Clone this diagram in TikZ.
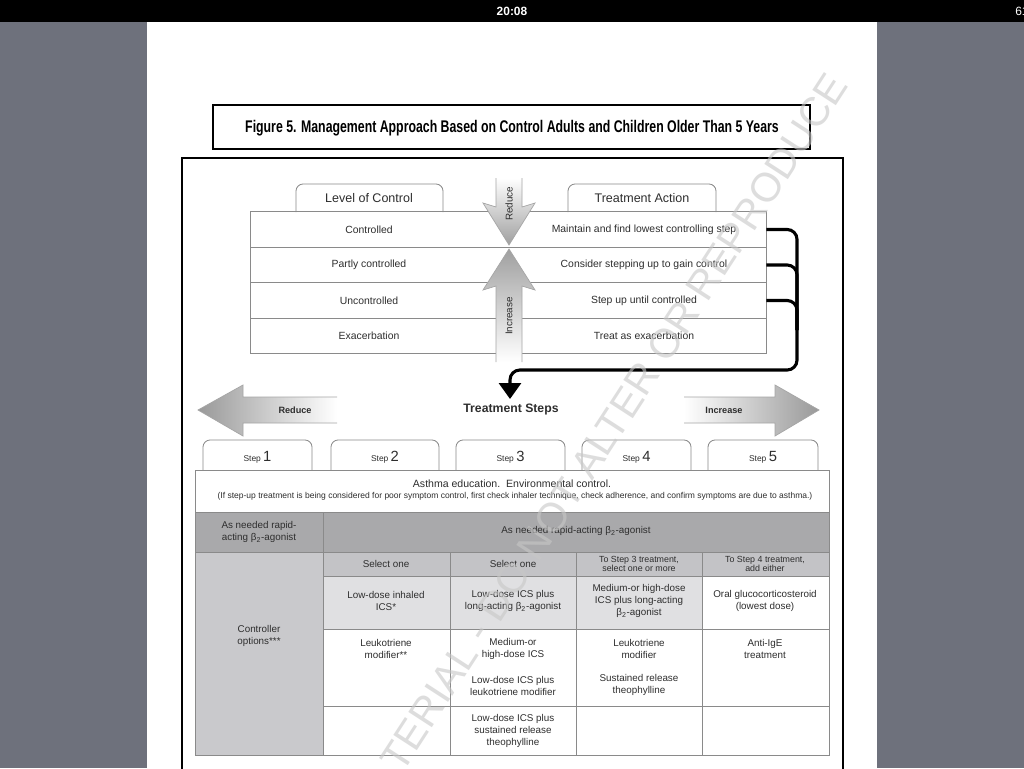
\documentclass[tikz,border=0pt]{standalone}
\usepackage{fontspec}
\setmainfont{Liberation Sans}
\newfontfamily\titlefont[FakeStretch=0.73]{Liberation Sans}
\usetikzlibrary{positioning, calc, arrows.meta}
\definecolor{slate}{HTML}{6E717C}
\definecolor{rowdark}{HTML}{A9A9AB}
\definecolor{rowmid}{HTML}{C3C3C6}
\definecolor{rowlight}{HTML}{E0E0E2}
\definecolor{cellgray}{HTML}{C9C9CC}
\definecolor{rulegray}{HTML}{8A8A8A}
\definecolor{inkgray}{HTML}{2E2E2E}

\begin{document}
\begin{tikzpicture}[
    x=0.25mm, y=-0.25mm,
    tabline/.style={draw=rulegray, fill=white, line width=0.6pt, rounded corners=5pt},
    cellrule/.style={draw=rulegray, line width=0.6pt},
    txt/.style={font=\fontsize{7}{8.6}\selectfont, text=inkgray, align=center, inner sep=0pt},
    rowtxt/.style={txt, font=\fontsize{7.4}{9}\selectfont},
    smalltxt/.style={font=\fontsize{6.3}{7}\selectfont, text=inkgray, align=center, inner sep=0pt},
    headtxt/.style={font=\fontsize{8.9}{10}\selectfont, text=inkgray, inner sep=0pt},
    feedback/.style={line width=2.2pt, rounded corners=7pt},
    arrowline/.style={draw=gray!70, line width=0.5pt}
]

    % --- SCREEN ---
    \useasboundingbox (0,0) rectangle (1024,768);
    \fill[slate] (0,0) rectangle (1024,768);
    \fill[white] (147,22) rectangle (877,768);
    \fill[black] (0,0) rectangle (1024,22);
    \node[text=white, font=\bfseries\fontsize{8.5}{10}\selectfont] (clock) at (512,11) {20:08};
    \node[text=white, font=\fontsize{8.5}{10}\selectfont, anchor=west, inner sep=0pt] (battery) at (1015,11) {61};

    % --- TITLE ---
    \draw[line width=1.3pt] (213,105) rectangle (810,149);
    \node[font=\titlefont\bfseries\fontsize{12}{14}\selectfont] (title) at (512,128) {Figure 5. Management Approach Based on Control Adults and Children Older Than 5 Years};
    \draw[line width=1.2pt] (182,158) rectangle (843,790);

    % --- LEVEL OF CONTROL / TREATMENT ACTION ---
    \draw[tabline] (296,212) -- (296,184) -- (443,184) -- (443,212);
    \draw[tabline] (568,212) -- (568,184) -- (716,184) -- (716,212);
    \node[headtxt] (lvlhead) at (369,198) {Level of Control};
    \node[headtxt] (acthead) at (642,198) {Treatment Action};
    \foreach \i/\lvl/\act in {1/Controlled/Maintain and find lowest controlling step,
                              2/Partly controlled/Consider stepping up to gain control,
                              3/Uncontrolled/Step up until controlled,
                              4/Exacerbation/Treat as exacerbation} {
        \node[draw=rulegray, line width=0.6pt, minimum width=129mm, minimum height=8.875mm, inner sep=0pt] (row\i) at (508,194+35.5*\i) {};
        \node[rowtxt] (lvl\i) at (369,194+35.5*\i) {\lvl};
        \node[rowtxt] (act\i) at (644,194+35.5*\i) {\act};
    }

    % Reduce / Increase arrows between the halves
    \shade[top color=white, bottom color=gray!75] (496,178) -- (496,207) -- (483,203) -- (509,245) -- (535,203) -- (522,207) -- (522,178) -- cycle;
    \draw[arrowline] (496,178) -- (496,207) -- (483,203) -- (509,245) -- (535,203) -- (522,207) -- (522,178);
    \node[txt, rotate=90] (reduceup) at (509,204) {Reduce};
    \shade[top color=gray!75, bottom color=white] (509,249) -- (535,290) -- (522,286) -- (522,362) -- (496,362) -- (496,286) -- (483,290) -- cycle;
    \draw[arrowline] (496,362) -- (496,286) -- (483,290) -- (509,249) -- (535,290) -- (522,286) -- (522,362);
    \node[txt, rotate=90] (increaseup) at (509,316) {Increase};

    % feedback lines to the treatment steps
    \coordinate (loop) at (797,370);
    \coordinate (drop) at (510,399);
    \draw[feedback, -{Triangle[width=5.5mm, length=4mm]}] (row1.east) -| (loop) -- (510,370) -- (drop);
    \draw[feedback] (row2.east) -| ($(loop)+(0,-40)$);
    \draw[feedback] (row3.east) -| ($(loop)+(0,-40)$);

    % --- TREATMENT STEPS ---
    \node[font=\bfseries\fontsize{8.7}{10}\selectfont, text=inkgray] (steps) at (511,409) {Treatment Steps};
    \shade[left color=gray!80, right color=white] (198,410) -- (243,385) -- (243,397) -- (337,397) -- (337,423) -- (243,423) -- (243,436) -- cycle;
    \draw[arrowline] (337,397) -- (243,397) -- (243,385) -- (198,410) -- (243,436) -- (243,423) -- (337,423);
    \node[font=\bfseries\fontsize{6.5}{8}\selectfont, text=inkgray] (reduce) at (295,410) {Reduce};
    \shade[left color=white, right color=gray!80] (684,397) -- (775,397) -- (775,385) -- (819,410) -- (775,436) -- (775,423) -- (684,423) -- cycle;
    \draw[arrowline] (684,397) -- (775,397) -- (775,385) -- (819,410) -- (775,436) -- (775,423) -- (684,423);
    \node[font=\bfseries\fontsize{6.5}{8}\selectfont, text=inkgray] (increase) at (724,410) {Increase};

    \foreach \xa/\xb/\n in {203/312/1, 331/439/2, 456/565/3, 582/691/4, 708/818/5} {
        \draw[tabline] (\xa,470) -- (\xa,440) -- (\xb,440) -- (\xb,470);
        \node[inner sep=0pt, text=inkgray] (step\n) at ({(\xa+\xb)/2},457) {{\fontsize{6}{7}\selectfont Step}\,{\fontsize{10.5}{12}\selectfont\n}};
    }

    % --- STEP TABLE ---
    \fill[rowdark] (195,512) rectangle (829,552);
    \fill[cellgray] (195,552) rectangle (323,755);
    \fill[rowmid] (323,552) rectangle (829,576);
    \fill[rowlight] (323,576) rectangle (702,629);
    \draw[cellrule] (195,470) rectangle (829,755);
    \draw[cellrule] (195,512) -- (829,512);
    \draw[cellrule] (195,552) -- (829,552);
    \draw[cellrule] (323,512) -- (323,755);
    \foreach \y in {576,629,706} \draw[cellrule] (323,\y) -- (829,\y);
    \foreach \x in {450,576,702} \draw[cellrule] (\x,552) -- (\x,755);

    \node[txt, font=\fontsize{7.5}{9}\selectfont] (educ) at (512,484) {Asthma education.\ \ Environmental control.};
    \node[smalltxt, font=\fontsize{6.05}{7}\selectfont] (stepup) at (515,496) {(If step-up treatment is being considered for poor symptom control, first check inhaler technique, check adherence, and confirm symptoms are due to asthma.)};
    \node[txt] (relief1) at (259,532) {As needed rapid-\\acting β\textsubscript{2}-agonist};
    \node[txt] (relief2) at (576,531) {As needed rapid-acting β\textsubscript{2}-agonist};
    \node[txt] (ctrl) at (259,636) {Controller\\options***};

    \node[txt] (sel2) at (386,564) {Select one};
    \node[txt] (sel3) at (513,564) {Select one};
    \node[smalltxt] (sel4) at (639,564) {To Step 3 treatment,\\select one or more};
    \node[smalltxt] (sel5) at (765,564) {To Step 4 treatment,\\add either};

    \node[txt] (ics) at (386,601) {Low-dose inhaled\\ICS*};
    \node[txt] (icslaba) at (513,601) {Low-dose ICS plus\\long-acting β\textsubscript{2}-agonist};
    \node[txt] (medlaba) at (639,601) {Medium-or high-dose\\ICS plus long-acting\\β\textsubscript{2}-agonist};
    \node[txt] (ocs) at (765,601) {Oral glucocorticosteroid\\(lowest dose)};

    \node[txt] (ltra) at (386,649) {Leukotriene\\modifier**};
    \node[txt] (medics) at (513,649) {Medium-or\\high-dose ICS};
    \node[txt] (icsltra) at (513,686) {Low-dose ICS plus\\leukotriene modifier};
    \node[txt] (ltra4) at (639,649) {Leukotriene\\modifier};
    \node[txt] (theo4) at (639,685) {Sustained release\\theophylline};
    \node[txt] (antiige) at (765,649) {Anti-IgE\\treatment};
    \node[txt] (icstheo) at (513,731) {Low-dose ICS plus\\sustained release\\theophylline};

    % --- WATERMARK ---
    \node[rotate=57, font=\fontsize{29}{31}\selectfont, text=black!22, text opacity=0.6] (stamp) at (614,422) {TERIAL - DO NOT ALTER OR REPRODUCE};

\end{tikzpicture}
\end{document}
